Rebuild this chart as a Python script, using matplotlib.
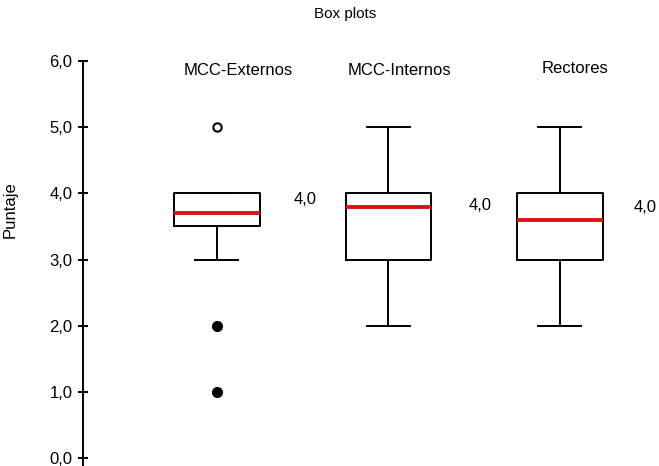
import matplotlib.pyplot as plt

# datos
grupos = ['MCC-Externos', 'MCC-Internos', 'Rectores']
q1 = [3.5, 3.0, 3.0]
mediana = [3.7, 3.8, 3.6]
q3 = [4.0, 4.0, 4.0]
bigote_inf = [3.0, 2.0, 2.0]
bigote_sup = [4.0, 5.0, 5.0]
atipicos = [[5.0], [], []]     # circulo abierto
extremos = [[2.0, 1.0], [], []]  # circulo relleno
etiqueta_valor = ['4,0', '4,0', '4,0']

plt.rcParams['font.family'] = ['Liberation Sans', 'DejaVu Sans']

fig = plt.figure(figsize=(6.59, 4.66), dpi=100)
ax = fig.add_axes([83 / 659, 0.0, 576 / 659, 405 / 466])

pos = [1, 2, 3]
stats = []
for i in range(3):
    stats.append({'med': mediana[i], 'q1': q1[i], 'q3': q3[i],
                  'whislo': bigote_inf[i], 'whishi': bigote_sup[i],
                  'fliers': [], 'label': grupos[i]})

ax.bxp(stats, positions=pos, widths=0.5, showfliers=False,
       boxprops=dict(color='black', linewidth=1.4),
       whiskerprops=dict(color='black', linewidth=1.4),
       capprops=dict(color='black', linewidth=1.4),
       medianprops=dict(color='#e01010', linewidth=2.8))

for i in range(3):
    if atipicos[i]:
        ax.plot([pos[i]] * len(atipicos[i]), atipicos[i], 'o', ms=6,
                mfc='white', mec='black', mew=1.5)
    if extremos[i]:
        ax.plot([pos[i]] * len(extremos[i]), extremos[i], 'o', ms=7,
                mfc='black', mec='black')

# nombres de los grupos y valor a la derecha
nom_x = [1.123, 2.067, 3.088]
nom_y = [5.85, 5.85, 5.89]
for i in range(3):
    ax.text(nom_x[i], nom_y[i], grupos[i], ha='center', va='center', fontsize=12)
val_x = [1.513, 2.534, 3.496]
val_y = [3.9, 3.81, 3.79]
for i in range(3):
    ax.text(val_x[i], val_y[i], etiqueta_valor[i], ha='center', va='center', fontsize=12)

ax.set_xlim(0.219, 3.578)
ax.set_ylim(-0.12, 6)
ax.set_yticks([0, 1, 2, 3, 4, 5, 6])
ax.set_yticklabels(['0,0', '1,0', '2,0', '3,0', '4,0', '5,0', '6,0'], fontsize=12)
ax.set_xticks([])
for s in ['top', 'right', 'bottom']:
    ax.spines[s].set_visible(False)
ax.spines['left'].set_linewidth(1.4)
ax.spines['left'].set_bounds(-0.12, 6)
ax.tick_params(axis='y', direction='inout', length=7, width=1.4, pad=4)
ax.set_ylabel('Puntaje', fontsize=12)
ax.yaxis.set_label_coords(-0.113, 0.632)

fig.text(345 / 659, 1 - 14 / 466, 'Box plots', ha='center', va='center', fontsize=11)

fig.savefig('out.png', dpi=100)
